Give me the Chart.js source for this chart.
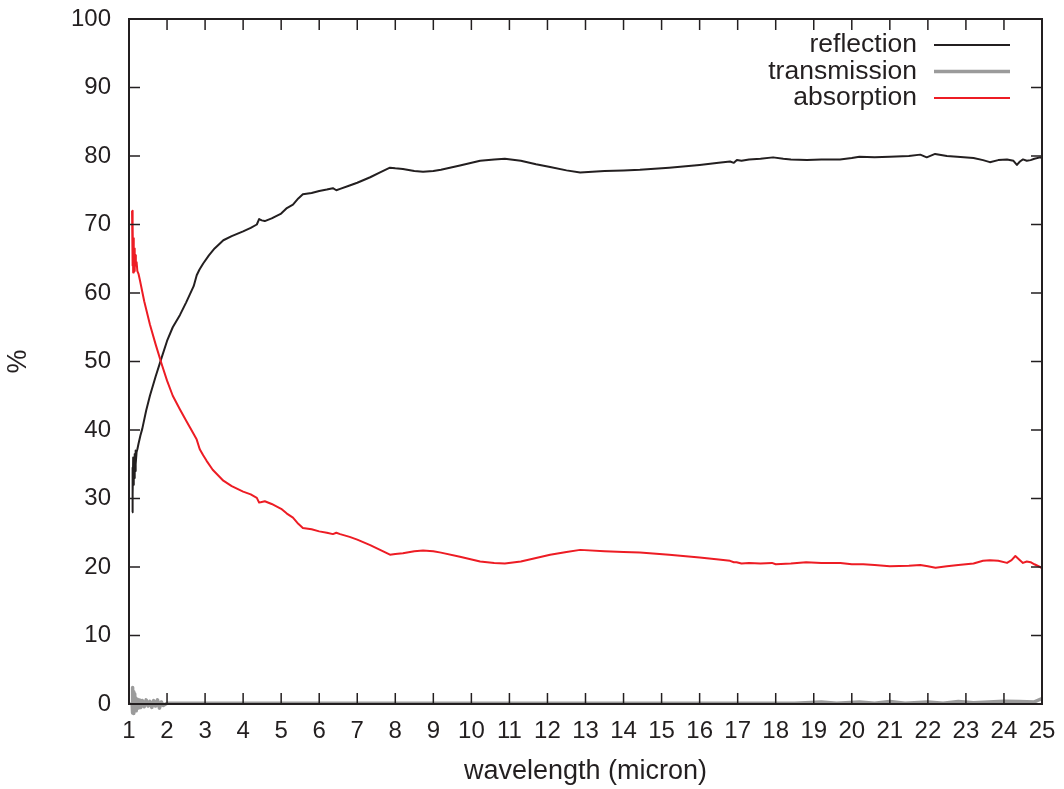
<!DOCTYPE html>
<html>
<head>
<meta charset="utf-8">
<title>reflection / transmission / absorption</title>
<script src="https://cdn.jsdelivr.net/npm/chart.js@4/dist/chart.umd.min.js"></script>
<style>
  html, body { margin: 0; padding: 0; background: #fff; }
  #wrap { width: 1064px; height: 789px; }
</style>
</head>
<body>
<div id="wrap"><canvas id="spectrum"></canvas></div>
<script>
// ---------- DATA (wavelength in micron, values in %) ----------
const reflectionX = [
  1.08, 1.09, 1.10, 1.11, 1.12, 1.13, 1.14, 1.15, 1.16, 1.17,
  1.18, 1.20, 1.22, 1.25, 1.30, 1.35, 1.45, 1.55, 1.70, 1.86,
  2.00, 2.15, 2.34, 2.50, 2.60, 2.70, 2.78, 2.85, 2.95, 3.10,
  3.25, 3.48, 3.70, 4.00, 4.20, 4.36, 4.42, 4.49, 4.57, 4.75,
  5.00, 5.15, 5.31, 5.45, 5.57, 5.80, 6.00, 6.20, 6.36, 6.45,
  6.55, 6.80, 7.00, 7.34, 7.60, 7.86, 8.00, 8.20, 8.50, 8.73,
  9.00, 9.20, 9.70, 10.23, 10.60, 10.88, 11.30, 11.70, 12.07, 12.50,
  12.86, 13.50, 14.00, 14.43, 15.20, 16.00, 16.50, 16.80, 16.90, 16.98,
  17.10, 17.30, 17.60, 17.93, 18.20, 18.40, 18.82, 19.20, 19.69, 20.00,
  20.20, 20.60, 21.00, 21.50, 21.80, 21.97, 22.19, 22.50, 22.77, 23.20,
  23.45, 23.63, 23.85, 24.08, 24.25, 24.34, 24.42, 24.50, 24.60, 24.70,
  24.80, 24.95, 25.00
];
const reflection = [
  28.0, 34.5, 30.5, 36.0, 32.0, 35.5, 33.0, 36.5, 34.0, 37.0,
  35.0, 36.8, 37.2, 38.0, 39.2, 40.2, 42.8, 45.0, 47.8, 50.6,
  53.0, 55.0, 56.8, 58.6, 59.8, 61.0, 62.6, 63.4, 64.3, 65.5,
  66.5, 67.7, 68.3, 69.0, 69.5, 70.0, 70.8, 70.6, 70.5, 70.9,
  71.6, 72.4, 72.9, 73.8, 74.4, 74.6, 74.9, 75.1, 75.3, 75.0,
  75.2, 75.7, 76.1, 76.9, 77.6, 78.3, 78.2, 78.1, 77.8, 77.7,
  77.8, 78.0, 78.6, 79.3, 79.5, 79.6, 79.3, 78.8, 78.4, 77.9,
  77.6, 77.8, 77.9, 78.0, 78.3, 78.7, 79.0, 79.2, 79.0, 79.4,
  79.3, 79.5, 79.6, 79.8, 79.6, 79.5, 79.4, 79.5, 79.5, 79.7,
  79.9, 79.8, 79.9, 80.0, 80.2, 79.8, 80.3, 80.0, 79.9, 79.7,
  79.4, 79.1, 79.4, 79.5, 79.3, 78.7, 79.2, 79.5, 79.3, 79.4,
  79.6, 79.8, 79.7
];

const transmissionX = [
  1.08, 1.09, 1.10, 1.11, 1.12, 1.13, 1.14, 1.15, 1.16, 1.17,
  1.19, 1.22, 1.25, 1.28, 1.31, 1.35, 1.40, 1.45, 1.50, 1.55,
  1.60, 1.65, 1.70, 1.75, 1.80, 1.85, 1.90, 2.00, 3.00, 5.00,
  8.00, 12.00, 16.00, 18.50, 19.20, 19.60, 20.20, 20.60, 21.00, 21.40,
  22.00, 22.40, 22.80, 23.20, 23.60, 24.00, 24.40, 24.80, 25.00
];
const transmission = [
  0.3, 2.4, -1.3, 1.8, -1.4, 1.2, -0.9, 1.5, -0.6, 0.9,
  -1.0, 0.7, -0.6, 0.6, -0.5, 0.5, -0.4, 0.6, -0.3, 0.4,
  -0.5, 0.5, -0.3, 0.6, -0.6, 0.3, -0.2, 0.1, 0.1, 0.1,
  0.1, 0.1, 0.1, 0.1, 0.3, 0.1, 0.3, 0.1, 0.35, 0.1,
  0.3, 0.1, 0.35, 0.2, 0.3, 0.4, 0.35, 0.3, 0.8
];

const absorptionX = [
  1.08, 1.09, 1.10, 1.11, 1.12, 1.13, 1.14, 1.15, 1.16, 1.18,
  1.20, 1.22, 1.25, 1.29, 1.40, 1.55, 1.70, 1.86, 2.00, 2.15,
  2.34, 2.50, 2.60, 2.70, 2.78, 2.86, 2.95, 3.04, 3.20, 3.48,
  3.70, 4.00, 4.20, 4.36, 4.42, 4.49, 4.57, 4.75, 5.00, 5.15,
  5.31, 5.45, 5.57, 5.80, 6.00, 6.20, 6.36, 6.45, 6.55, 6.80,
  7.00, 7.34, 7.60, 7.86, 8.00, 8.20, 8.50, 8.73, 9.00, 9.20,
  9.70, 10.23, 10.60, 10.88, 11.30, 11.70, 12.07, 12.50, 12.86, 13.50,
  14.00, 14.43, 15.20, 16.00, 16.50, 16.80, 16.90, 16.97, 17.10, 17.30,
  17.60, 17.90, 18.00, 18.40, 18.80, 19.20, 19.70, 20.00, 20.30, 20.60,
  21.00, 21.50, 21.80, 22.00, 22.20, 22.50, 22.80, 23.20, 23.45, 23.63,
  23.85, 24.08, 24.20, 24.30, 24.42, 24.50, 24.60, 24.70, 24.80, 24.95,
  25.00
];
const absorption = [
  72.0, 64.0, 70.0, 63.0, 68.0, 63.5, 66.5, 63.2, 65.5, 64.0,
  64.5, 63.2, 62.8, 61.8, 58.8, 55.4, 52.5, 49.6, 47.2, 45.0,
  43.0, 41.4, 40.4, 39.4, 38.6, 37.2, 36.3, 35.5, 34.2, 32.6,
  31.8, 31.0, 30.6, 30.1, 29.4, 29.5, 29.6, 29.2, 28.5, 27.8,
  27.2, 26.3, 25.7, 25.5, 25.2, 25.0, 24.8, 25.0, 24.8, 24.4,
  24.0, 23.2, 22.5, 21.8, 21.9, 22.0, 22.3, 22.4, 22.3, 22.1,
  21.5, 20.8, 20.6, 20.5, 20.8, 21.3, 21.8, 22.2, 22.5, 22.3,
  22.2, 22.1, 21.8, 21.4, 21.1, 20.9, 20.7, 20.7, 20.5, 20.6,
  20.5, 20.6, 20.4, 20.5, 20.7, 20.6, 20.6, 20.4, 20.4, 20.3,
  20.1, 20.2, 20.3, 20.1, 19.9, 20.1, 20.3, 20.5, 20.9, 21.0,
  20.9, 20.6, 21.0, 21.6, 21.0, 20.6, 20.8, 20.7, 20.4, 20.0,
  19.8
];

const xTicksFrom = 1, xTicksTo = 25;
const yTicksFrom = 0, yTicksTo = 100, yStep = 10;

const ink = '#231f20';
const FONT = '"Liberation Sans", Arial, Helvetica, sans-serif';

function zip(xs, ys) {
  return xs.map((x, i) => ({ x: x, y: ys[i] }));
}

// ---------- FRAME, INWARD TICKS AND KEY ----------
const frameAndKey = {
  id: 'frameAndKey',
  afterDatasetsDraw(chart) {
    const { ctx, chartArea: a, scales: { x, y } } = chart;
    const tick = 11;
    ctx.save();
    ctx.strokeStyle = ink;
    ctx.lineWidth = 1.5;
    ctx.beginPath();
    x.ticks.forEach(t => {
      const px = x.getPixelForValue(t.value);
      ctx.moveTo(px, a.bottom); ctx.lineTo(px, a.bottom - tick);
      ctx.moveTo(px, a.top); ctx.lineTo(px, a.top + tick);
    });
    y.ticks.forEach(t => {
      const py = y.getPixelForValue(t.value);
      ctx.moveTo(a.left, py); ctx.lineTo(a.left + tick, py);
      ctx.moveTo(a.right, py); ctx.lineTo(a.right - tick, py);
    });
    ctx.stroke();

    ctx.lineWidth = 2;
    ctx.strokeRect(a.left, a.top, a.right - a.left, a.bottom - a.top);

    // key in the top right corner: label, then a line sample
    ctx.font = '26.5px ' + FONT;
    ctx.fillStyle = ink;
    ctx.textAlign = 'right';
    ctx.textBaseline = 'middle';
    const textRight = a.right - 125;
    const lineFrom = a.right - 108, lineTo = a.right - 32;
    const keys = ['reflection', 'transmission', 'absorption'];
    keys.forEach((name, i) => {
      const ds = chart.data.datasets.find(d => d.label === name);
      const rowY = a.top + 26 + i * 26.5;
      ctx.fillText(name, textRight, rowY);
      ctx.beginPath();
      ctx.strokeStyle = ds.borderColor;
      ctx.lineWidth = ds.borderWidth;
      ctx.moveTo(lineFrom, rowY);
      ctx.lineTo(lineTo, rowY);
      ctx.stroke();
    });
    ctx.restore();
  }
};

new Chart(document.getElementById('spectrum'), {
  type: 'line',
  data: {
    datasets: [
      {
        label: 'reflection',
        data: zip(reflectionX, reflection),
        borderColor: ink,
        borderWidth: 2,
        order: 3
      },
      {
        label: 'transmission',
        data: zip(transmissionX, transmission),
        borderColor: '#9b9b9b',
        borderWidth: 3.5,
        clip: false,
        order: 2
      },
      {
        label: 'absorption',
        data: zip(absorptionX, absorption),
        borderColor: '#ed1c24',
        borderWidth: 2,
        order: 1
      }
    ]
  },
  options: {
    responsive: true,
    maintainAspectRatio: false,
    devicePixelRatio: 1,
    animation: false,
    events: [],
    elements: {
      point: { radius: 0 },
      line: { tension: 0, borderJoinStyle: 'round' }
    },
    layout: { padding: { top: 19, right: 22, left: 0, bottom: 0 } },
    plugins: {
      legend: { display: false },
      tooltip: { enabled: false }
    },
    scales: {
      x: {
        type: 'linear',
        min: xTicksFrom,
        max: xTicksTo,
        grid: { display: false, drawTicks: false },
        border: { display: false },
        ticks: {
          stepSize: 1,
          autoSkip: false,
          maxRotation: 0,
          padding: 13,
          color: ink,
          font: { family: FONT, size: 24 }
        },
        title: {
          display: true,
          text: 'wavelength (micron)',
          color: ink,
          font: { family: FONT, size: 27 },
          padding: { top: 0, bottom: 1 }
        },
        afterFit(scale) {
          scale.height = 85;
          scale.paddingLeft = 0;
          scale.paddingRight = 0;
        }
      },
      y: {
        min: yTicksFrom,
        max: yTicksTo,
        grid: { display: false, drawTicks: false },
        border: { display: false },
        ticks: {
          stepSize: yStep,
          padding: 18,
          color: ink,
          font: { family: FONT, size: 24 }
        },
        title: {
          display: true,
          text: '%',
          color: ink,
          font: { family: FONT, size: 27 },
          padding: { top: 2, bottom: 0 }
        },
        afterFit(scale) {
          scale.width = 129;
          scale.paddingTop = 0;
          scale.paddingBottom = 0;
        }
      }
    }
  },
  plugins: [frameAndKey]
});
</script>
</body>
</html>
